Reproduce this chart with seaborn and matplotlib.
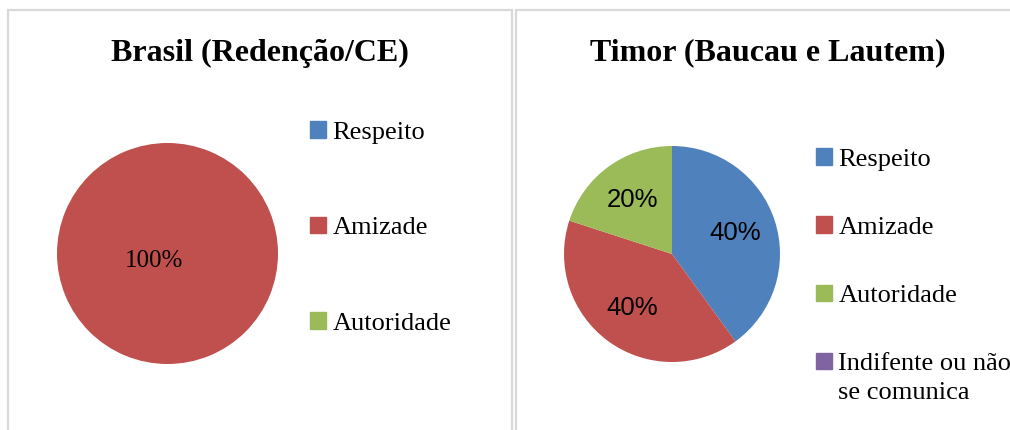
import matplotlib
matplotlib.use("Agg")
import matplotlib.pyplot as plt
from matplotlib.patches import Rectangle, Patch
import seaborn as sns

sns.set_style("white")
plt.rcParams["font.family"] = ["Liberation Serif", "DejaVu Serif"]
plt.rcParams["text.color"] = "black"

# data
cats_brasil = ["Respeito", "Amizade", "Autoridade"]
vals_brasil = [0, 100, 0]
cats_timor = ["Respeito", "Amizade", "Autoridade", "Indifente ou não\nse comunica"]
vals_timor = [40, 40, 20, 0]
titles = ["Brasil (Redenção/CE)", "Timor (Baucau e Lautem)"]

colors = ["#4F81BD", "#C0504D", "#9BBB59", "#8064A2"]

W, H = 1010, 430
fig = plt.figure(figsize=(W / 100, H / 100), dpi=100)


def px_axes(cx, cy, r):
    return fig.add_axes([(cx - r) / W, (H - cy - r) / H, 2 * r / W, 2 * r / H])


def pct(p):
    return f"{p:.0f}%" if p > 0 else ""


# panel borders
for x0, x1 in [(8, 512), (516, 1030)]:
    fig.add_artist(Rectangle((x0 / W, -0.1), (x1 - x0) / W, (H - 10) / H + 0.1,
                             transform=fig.transFigure, fill=False,
                             edgecolor="#d9d9d9", linewidth=1.6))

# Brasil
ax1 = px_axes(167.5, 253.5, 110.5)
w1, t1, a1 = ax1.pie(vals_brasil, colors=colors[:3], startangle=28, counterclock=False,
                     autopct=pct, pctdistance=0.135,
                     wedgeprops=dict(linewidth=0),
                     textprops=dict(fontsize=18, color="black"))
ax1.set_xlim(-1, 1)
ax1.set_ylim(-1, 1)
ax1.legend(handles=[Patch(color=c) for c in colors[:3]], labels=cats_brasil,
           loc="upper left", bbox_to_anchor=(310 / W, 1 - 121 / H),
           bbox_transform=fig.transFigure, frameon=False, fontsize=19,
           handlelength=0.6, handleheight=0.6, handletextpad=0.25,
           labelspacing=2.76, borderpad=0, borderaxespad=0)
fig.text(260 / W, 1 - 53 / H, titles[0], ha="center", va="center",
         fontsize=23, fontweight="bold")

# Timor
ax2 = px_axes(672, 254, 108)
w2, t2, a2 = ax2.pie(vals_timor, colors=colors, startangle=90, counterclock=False,
                     autopct=pct, pctdistance=0.62,
                     wedgeprops=dict(linewidth=0),
                     textprops=dict(fontsize=18.5, color="black",
                                    family=["Liberation Sans", "DejaVu Sans"]))
ax2.set_xlim(-1, 1)
ax2.set_ylim(-1, 1)
leg2 = ax2.legend(handles=[Patch(color=c) for c in colors], labels=cats_timor,
                  loc="upper left", bbox_to_anchor=(816 / W, 1 - 148 / H),
                  bbox_transform=fig.transFigure, frameon=False, fontsize=19,
                  handlelength=0.6, handleheight=0.6, handletextpad=0.25,
                  labelspacing=1.73, borderpad=0, borderaxespad=0)
for t in leg2.get_texts():
    t.set_linespacing(1.4)
# align the square of the two-line entry with its first line
last = leg2.legend_handles[-1]
last.set_y(last.get_y() + 12.0)
fig.text(768 / W, 1 - 53 / H, titles[1], ha="center", va="center",
         fontsize=23, fontweight="bold")

fig.savefig("out.png", dpi=100)
